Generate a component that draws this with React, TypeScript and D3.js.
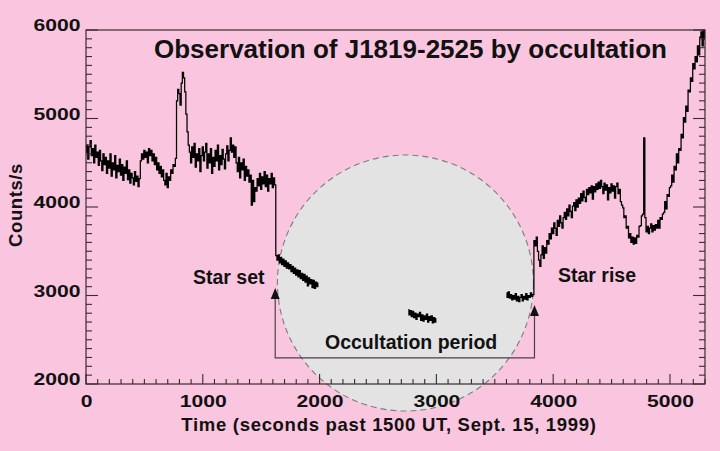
import React from 'react';
import * as d3 from 'd3';

const W = 720;
const H = 451;
const BIN = 10; // seconds per light-curve sample

const xTicks = [0, 1000, 2000, 3000, 4000, 5000];
const yTicks = [2000, 3000, 4000, 5000, 6000];

// Light curve before and during star set (t = 0 .. 1990 s)
const segAStart = 0;
const segA = [
  4620, 4700, 4540, 4680, 4750, 4580, 4660, 4500, 4700, 4560,
  4620, 4470, 4640, 4520, 4410, 4600, 4480, 4560, 4380, 4520,
  4440, 4600, 4350, 4500, 4420, 4580, 4330, 4470, 4400, 4540,
  4360, 4480, 4300, 4450, 4380, 4520, 4310, 4420, 4270, 4380,
  4330, 4250, 4400, 4290, 4350, 4230, 4320, 4520, 4600, 4540,
  4640, 4560, 4620, 4500, 4660, 4580, 4640, 4520, 4600, 4480,
  4560, 4420, 4500, 4380, 4460, 4340, 4420, 4300, 4250, 4380,
  4220, 4340, 4300, 4420, 4380, 4480, 4460, 4550, 5200, 5330,
  5280, 5150, 5400, 5520, 5460, 5300, 5050, 4850, 4700, 4620,
  4500, 4680, 4560, 4720, 4450, 4600, 4520, 4660, 4400, 4580,
  4680, 4520, 4620, 4720, 4440, 4600, 4500, 4660, 4380, 4560,
  4460, 4640, 4520, 4700, 4420, 4580, 4480, 4650, 4540, 4430,
  4600, 4690, 4520, 4640, 4780, 4620, 4700, 4560, 4680, 4500,
  4400, 4560, 4330, 4500, 4420, 4540, 4300, 4460, 4350, 4420,
  4280, 4360, 4020, 4300, 4060, 4220, 4180, 4320, 4240, 4380,
  4200, 4340, 4260, 4400, 4230, 4360, 4180, 4320, 4260, 4380,
  4220, 4330, 4250, 3450, 3400, 3460, 3370, 3430, 3350, 3410,
  3330, 3390, 3310, 3370, 3300, 3350, 3270, 3330, 3250, 3310,
  3230, 3290, 3210, 3280, 3190, 3250, 3170, 3240, 3150, 3220,
  3110, 3200, 3130, 3180, 3090, 3170, 3080, 3150, 3100, 3140,
];

// Short segment in the middle of the occultation (t = 2760 .. 3000 s)
const segBStart = 2760;
const segB = [
  2840, 2780, 2830, 2760, 2820, 2750, 2800, 2730, 2790, 2760,
  2810, 2720, 2780, 2710, 2770, 2730, 2790, 2700, 2760, 2720,
  2770, 2690, 2750, 2700, 2740,
];

// Segment before and after star rise (t = 3600 .. 5300 s)
const segCStart = 3600;
const segC = [
  3030, 2980, 3040, 2970, 3010, 2950, 3000, 2960, 3020, 2940,
  2990, 2930, 2980, 3010, 2940, 2990, 2960, 3020, 2950, 3000,
  2980, 3030, 2990, 3010, 3620, 3560, 3660, 3500, 3400, 3330,
  3460, 3560, 3420, 3540, 3480, 3620, 3580, 3700, 3640, 3760,
  3700, 3820, 3760, 3680, 3850, 3780, 3900, 3820, 3760, 3880,
  3940, 3860, 3980, 3900, 4020, 3950, 3880, 4010, 4050, 3960,
  4080, 4000, 4100, 4040, 4150, 4070, 4180, 4110, 4060, 4200,
  4140, 4220, 4160, 4240, 4090, 4230, 4170, 4260, 4200, 4280,
  4210, 4300, 4230, 4150, 4270, 4190, 4250, 4080, 4220, 4160,
  4260, 4180, 4240, 4100, 4230, 4270, 4150, 4200, 4060, 4020,
  3990, 3880, 3900, 3760, 3780, 3650, 3700, 3600, 3660, 3580,
  3650, 3590, 3680, 3660, 3780, 3790, 3900, 3920, 4780, 3880,
  3720, 3780, 3700, 3760, 3810, 3720, 3790, 3740, 3800, 3760,
  3850, 3760, 3880, 3860, 3920, 3940, 4060, 3980, 4140, 4120,
  4220, 4240, 4360, 4280, 4460, 4420, 4600, 4500, 4660, 4640,
  4820, 4780, 5010, 4960, 5140, 5080, 5320, 5300, 5460, 5420,
  5620, 5560, 5700, 5640, 5820, 5720, 5920, 5980, 5820, 6000,
  5900,
];

// Annotation anchors (data coordinates)
const starSetTime = 1620;
const starRiseTime = 3840;
const setArrowTip = 3085;
const riseArrowTip = 2893;
const bracketLevel = 2295;
const occCenter = { t: 2735, v: 3141 };

const FONT = '"Liberation Sans", Arial, Helvetica, sans-serif';
const BG = '#fac6df';

export default function App() {
  const left = 86, right = 705, top = 30, bottom = 384;
  const x = d3.scaleLinear().domain([0, 5300]).range([left, right]);
  const y = d3.scaleLinear().domain([2000, 6000]).range([bottom, top]);

  const toPts = (start: number, vals: number[]) =>
    vals.map((v, i) => [start + i * BIN, v] as [number, number]);

  const line = d3
    .line<[number, number]>()
    .x((d) => x(d[0]))
    .y((d) => y(Math.min(6000, d[1])))
    .curve(d3.curveStep);

  const segments = [toPts(segAStart, segA), toPts(segBStart, segB), toPts(segCStart, segC)];

  const xMinor = d3.range(0, 5301, 100);
  const yMinor = d3.range(2000, 6001, 100);
  const tickColor = '#3a2a33';

  const xs = x(starSetTime);
  const xr = x(starRiseTime);
  const yb = y(bracketLevel);
  const ys = y(setArrowTip);
  const yr = y(riseArrowTip);
  const arrow = (cx: number, tipY: number) =>
    `M${cx},${tipY} L${cx - 4.5},${tipY + 11} L${cx + 4.5},${tipY + 11} Z`;

  const tickFont = { fontSize: 16.5, fontWeight: 'bold' as const, fill: '#111' };

  return (
    <svg
      width={W}
      height={H}
      viewBox={`0 0 ${W} ${H}`}
      style={{ position: 'fixed', left: 0, top: 0, display: 'block' }}
      fontFamily={FONT}
    >
      <rect x={0} y={0} width={W} height={H} fill={BG} />

      {/* occultation disc */}
      <circle
        cx={x(occCenter.t)}
        cy={y(occCenter.v)}
        r={128}
        fill="#e3e3e3"
        stroke="#7d7d7d"
        strokeWidth={1.1}
        strokeDasharray="6 4"
      />

      {/* light curve */}
      {segments.map((s, i) => (
        <path key={i} d={line(s) || ''} fill="none" stroke="#000" strokeWidth={1.25} />
      ))}

      {/* frame */}
      <rect x={left} y={top} width={right - left} height={bottom - top} fill="none" stroke={tickColor} strokeWidth={1.2} />

      {/* ticks */}
      {xMinor.map((t) => {
        const major = t % 1000 === 0;
        return (
          <line key={`xt${t}`} x1={x(t)} x2={x(t)} y1={bottom} y2={bottom - (major ? 10 : 5)} stroke={tickColor} strokeWidth={1.1} />
        );
      })}
      {yMinor.map((v) => {
        const major = v % 1000 === 0;
        const len = major ? 12 : 6;
        return (
          <g key={`yt${v}`}>
            <line x1={left} x2={left + len} y1={y(v)} y2={y(v)} stroke={tickColor} strokeWidth={1.1} />
            <line x1={right} x2={right - len} y1={y(v)} y2={y(v)} stroke={tickColor} strokeWidth={1.1} />
          </g>
        );
      })}

      {/* tick labels (wide, bold digits) */}
      {xTicks.map((t) => (
        <text key={`xl${t}`} transform={`translate(${x(t) + 0.5},407) scale(1.28,1)`} textAnchor="middle" {...tickFont}>
          {t}
        </text>
      ))}
      {yTicks.map((v) => (
        <text key={`yl${v}`} transform={`translate(80.5,${y(v) + 1}) scale(1.28,1)`} textAnchor="end" {...tickFont}>
          {v}
        </text>
      ))}

      {/* axis titles */}
      <text x={389} y={431} textAnchor="middle" fontSize={18.5} fontWeight="bold" letterSpacing={0.7} fill="#111">
        Time (seconds past 1500 UT, Sept. 15, 1999)
      </text>
      <text
        transform={`translate(22,205) rotate(-90)`}
        textAnchor="middle"
        fontSize={18.5}
        fontWeight="bold"
        letterSpacing={0.6}
        fill="#111"
      >
        Counts/s
      </text>

      {/* title */}
      <text x={154} y={58} fontSize={26} fontWeight="bold" fill="#111">
        Observation of J1819-2525 by occultation
      </text>

      {/* annotations */}
      <path
        d={`M${xs},${ys + 10} L${xs},${yb} L${xr},${yb} L${xr},${yr + 10}`}
        fill="none"
        stroke="#4a4048"
        strokeWidth={1.2}
      />
      <path d={arrow(xs, ys)} fill="#111" />
      <path d={arrow(xr, yr)} fill="#111" />
      <text x={193} y={284} fontSize={19.5} fontWeight="bold" fill="#111">
        Star set
      </text>
      <text x={558} y={282} fontSize={19.5} fontWeight="bold" fill="#111">
        Star rise
      </text>
      <text x={325} y={349} fontSize={19.5} fontWeight="bold" fill="#111">
        Occultation period
      </text>
    </svg>
  );
}
